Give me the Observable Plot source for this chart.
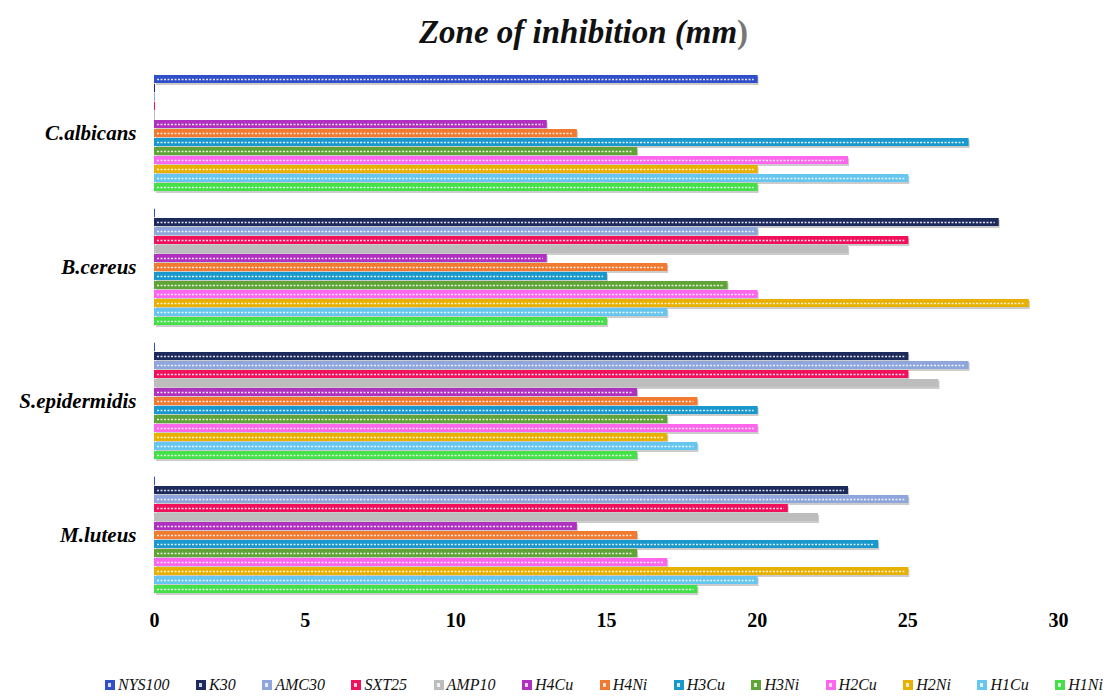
<!DOCTYPE html>
<html>
<head>
<meta charset="utf-8">
<script src="https://cdn.jsdelivr.net/npm/d3@7"></script>
<script src="https://cdn.jsdelivr.net/npm/@observablehq/plot@0.6"></script>
<style>
  html, body { margin: 0; padding: 0; background: #fff; }
  body { width: 1109px; height: 699px; overflow: hidden; font-family: "Liberation Serif", "Times New Roman", serif; }
  #title { height: 60px; line-height: 64px; text-align: center; font-size: 33px; font-weight: bold; font-style: italic; color: #111; padding-left: 58px; box-sizing: border-box; }
  #title .p { color: #777; font-style: normal; }
  #legend { display: flex; justify-content: space-between; padding: 0 6px 0 105px; height: 26px; align-items: center; font-style: italic; font-size: 16px; color: #111; font-family: "Liberation Serif", "Times New Roman", serif; }
  #legend .it { display: flex; align-items: center; white-space: nowrap; }
  #legend .sw { width: 10px; height: 10px; margin-right: 3px; position: relative; }
  #legend .sw::after { content: ""; position: absolute; left: 3px; top: 3px; width: 3px; height: 4px; background: rgba(255,255,255,0.8); }
</style>
</head>
<body>
<div id="title">Zone of inhibition (mm<span class="p">)</span></div>
<div id="chart"></div>
<div id="legend"></div>
<script>
const categories = ["C.albicans", "B.cereus", "S.epidermidis", "M.luteus"];
const series = ["NYS100", "K30", "AMC30", "SXT25", "AMP10", "H4Cu", "H4Ni", "H3Cu", "H3Ni", "H2Cu", "H2Ni", "H1Cu", "H1Ni"];
const colors = ["#2f50c8", "#1c2a5c", "#8ea6dc", "#f0105c", "#bdbdbd", "#b030c0", "#f27a30", "#1898cc", "#5ea436", "#ff66ee", "#e8b000", "#66c6f0", "#44e048"];
const valuesCAlbicans = [20, 0, 0, 0, 0, 13, 14, 27, 16, 23, 20, 25, 20];
const valuesBCereus = [0, 28, 20, 25, 23, 13, 17, 15, 19, 20, 29, 17, 15];
const valuesSEpidermidis = [0, 25, 27, 25, 26, 16, 18, 20, 17, 20, 17, 18, 16];
const valuesMLuteus = [0, 23, 25, 21, 22, 14, 16, 24, 16, 17, 25, 20, 18];
const xTicks = [0, 5, 10, 15, 20, 25, 30];

const valueSets = [valuesCAlbicans, valuesBCereus, valuesSEpidermidis, valuesMLuteus];
const data = [];
categories.forEach((c, i) => series.forEach((s, j) => data.push({category: c, series: s, value: valueSets[i][j]})));
const textured = data.filter(d => d.series !== "AMP10" && d.value > 0);

const chart = Plot.plot({
  width: 1109,
  height: 612,
  marginLeft: 154,
  marginRight: 51,
  marginTop: 10,
  marginBottom: 74,
  style: {fontFamily: "'Liberation Serif', 'Times New Roman', serif", background: "#fff"},
  x: {domain: [0, 30], ticks: xTicks, label: null, tickSize: 0, tickPadding: 18},
  y: {domain: series, axis: null, paddingInner: 0.08, paddingOuter: 0.04},
  fy: {domain: categories, label: null, paddingInner: 0.12, paddingOuter: 0.03, tickSize: 0, tickPadding: 18},
  color: {domain: series, range: colors},
  marks: [
    Plot.barX(data, {x: "value", y: "series", fy: "category", fill: "#555", fillOpacity: 0.3, dx: 2, dy: 2}),
    Plot.ruleX([0], {stroke: "#d0d0d0", strokeWidth: 1}),
    Plot.barX(data, {x: "value", y: "series", fy: "category", fill: "series", insetRight: -1}),
    Plot.ruleY(textured, {x1: 0.1, x2: d => d.value - 0.1, y: "series", fy: "category", stroke: "white", strokeOpacity: 0.85, strokeWidth: 1.6, strokeDasharray: "2,1.5"}),
    Plot.axisX({ticks: xTicks, tickSize: 0, tickPadding: 18, fontSize: 20, fontWeight: "bold", label: null}),
    Plot.axisFy({anchor: "left", tickSize: 0, tickPadding: 18, fontSize: 21, fontWeight: "bold", fontStyle: "italic", label: null})
  ]
});
document.getElementById("chart").appendChild(chart);

const legend = document.getElementById("legend");
series.forEach((s, i) => {
  const it = document.createElement("div");
  it.className = "it";
  const sw = document.createElement("span");
  sw.className = "sw";
  sw.style.background = colors[i];
  const t = document.createElement("span");
  t.textContent = s;
  it.appendChild(sw);
  it.appendChild(t);
  legend.appendChild(it);
});
</script>
</body>
</html>
